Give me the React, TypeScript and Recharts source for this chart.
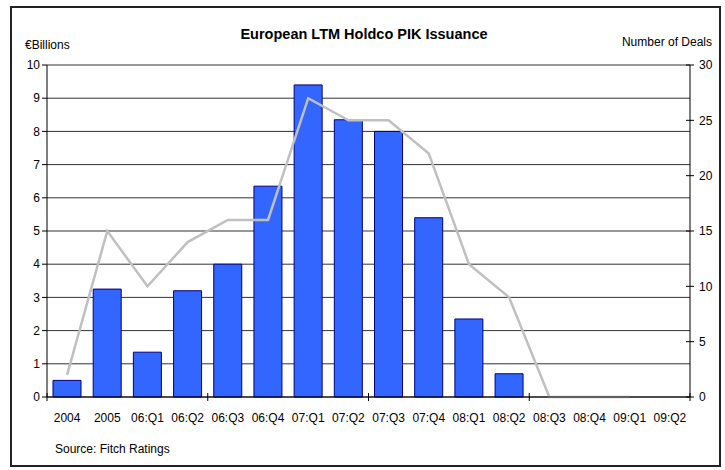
import React from 'react';
import { ComposedChart, Bar, Line, XAxis, YAxis, CartesianGrid } from 'recharts';

const periods = ['2004', '2005', '06:Q1', '06:Q2', '06:Q3', '06:Q4', '07:Q1', '07:Q2', '07:Q3', '07:Q4', '08:Q1', '08:Q2', '08:Q3', '08:Q4', '09:Q1', '09:Q2'];
const issuance = [0.5, 3.25, 1.35, 3.2, 4.0, 6.35, 9.4, 8.35, 8.0, 5.4, 2.35, 0.7, 0, 0, 0, 0];
const deals: (number | null)[] = [2, 15, 10, 14, 16, 16, 27, 25, 25, 22, 12, 9, 0, 0, 0, null];
const billionTicks = [0, 1, 2, 3, 4, 5, 6, 7, 8, 9, 10];
const dealTicks = [0, 5, 10, 15, 20, 25, 30];

const FONT = '"Liberation Sans", Arial, sans-serif';

const rows = periods.map((p, i) => ({ period: p, issuance: issuance[i], deals: deals[i] }));

// category labels, plus a small tick at every 4th category boundary
function PeriodTick(props: any) {
  const { x, y, payload, index } = props;
  const half = payload && payload.offset ? payload.offset : 0;
  const marks: number[] = [];
  if (index % 4 === 0) marks.push(x - half);
  if (index === periods.length - 1) marks.push(x + half);
  return (
    <g>
      {marks.map((mx, i) => (
        <line key={i} x1={mx} x2={mx} y1={y - 20} y2={y - 12} stroke="#000" strokeWidth={1} />
      ))}
      <text x={x} y={y} dy="0.71em" textAnchor="middle" fontSize={12} fontFamily={FONT} fill="#000">
        {payload.value}
      </text>
    </g>
  );
}

// right axis: tick crosses the axis line
function DealsTick(props: any) {
  const { x, y, payload } = props;
  const ax = x - 8;
  return (
    <g>
      <line x1={ax - 4} x2={ax} y1={y} y2={y} stroke="#000" strokeWidth={1} />
      <text x={x + 1} y={y} dy="0.355em" textAnchor="start" fontSize={12} fontFamily={FONT} fill="#000">
        {payload.value}
      </text>
    </g>
  );
}

export default function App() {
  const textStyle: React.CSSProperties = {
    position: 'absolute',
    fontFamily: FONT,
    fontSize: 12,
    color: '#000',
    whiteSpace: 'nowrap',
  };
  return (
    <div style={{ position: 'absolute', left: 0, top: 0, width: 725, height: 470, background: '#fff' }}>
      <div
        style={{
          position: 'absolute',
          left: 10,
          top: 6,
          width: 711,
          height: 461,
          border: '2px solid #222',
          boxSizing: 'border-box',
        }}
      />
      <div style={{ ...textStyle, left: 0, width: 728, top: 26, textAlign: 'center', fontSize: 14.5, fontWeight: 'bold' }}>
        European LTM Holdco PIK Issuance
      </div>
      <div style={{ ...textStyle, left: 25, top: 38 }}>€Billions</div>
      <div style={{ ...textStyle, right: 13, top: 35 }}>Number of Deals</div>
      <div style={{ ...textStyle, left: 55, top: 442 }}>Source: Fitch Ratings</div>
      <div style={{ position: 'absolute', left: 0, top: 0 }}>
        <ComposedChart width={725} height={470} data={rows} margin={{ top: 65, right: 0, bottom: 43, left: 0 }}>
          <CartesianGrid horizontal vertical={false} stroke="#333" yAxisId="left" />
          <XAxis
            dataKey="period"
            axisLine={{ stroke: '#000' }}
            tickLine={false}
            tickSize={0}
            tickMargin={16}
            interval={0}
            height={30}
            tick={<PeriodTick />}
          />
          <YAxis
            yAxisId="left"
            orientation="left"
            width={47}
            domain={[0, 10]}
            ticks={billionTicks}
            interval={0}
            axisLine={{ stroke: '#000' }}
            tickLine={{ stroke: '#000' }}
            tickSize={5}
            tickMargin={2}
            tick={{ fill: '#000', fontSize: 12, fontFamily: FONT }}
          />
          <YAxis
            yAxisId="right"
            orientation="right"
            width={35}
            domain={[0, 30]}
            ticks={dealTicks}
            interval={0}
            axisLine={{ stroke: '#000' }}
            tickLine={{ stroke: '#000' }}
            tickSize={4}
            tickMargin={4}
            tick={<DealsTick />}
          />
          <Bar
            yAxisId="left"
            dataKey="issuance"
            fill="#3366FF"
            stroke="#000080"
            strokeWidth={1}
            barSize={28}
            isAnimationActive={false}
          />
          <Line
            yAxisId="right"
            dataKey="deals"
            type="linear"
            stroke="#C0C0C0"
            strokeWidth={2.5}
            dot={false}
            activeDot={false}
            connectNulls={false}
            isAnimationActive={false}
          />
        </ComposedChart>
      </div>
    </div>
  );
}
